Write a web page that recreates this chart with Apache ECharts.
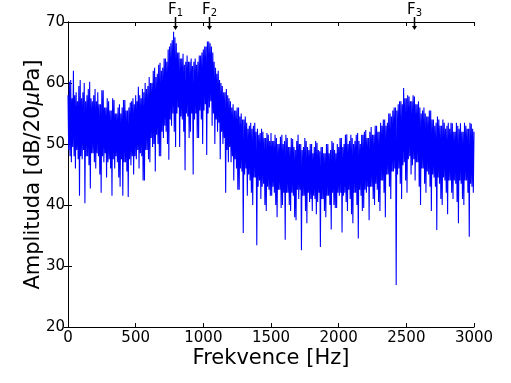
<!DOCTYPE html>
<html>
<head>
<meta charset="utf-8">
<script src="https://cdn.jsdelivr.net/npm/echarts@6/dist/echarts.min.js"></script>
<style>html,body{margin:0;padding:0;background:#fff}#c{width:511px;height:383px}</style>
</head>
<body>
<div id="c"></div>
<script>
// Spectrum: upper side of the noise band at 0,10,20,... Hz
const freqStep = 10;
const upperStart = 0;
const upper = [
  58, 60.2, 60.5, 57.5, 62, 58, 58.5, 57, 59.5, 60.5,
  57.5, 58.5, 60, 57, 58, 59, 60.2, 57.5, 57, 58,
  59, 57, 58.5, 56.5, 56.5, 58.8, 58.8, 56, 56, 57.5,
  57, 55.5, 55.5, 57.5, 57.2, 55, 55, 56, 56.5, 55,
  56, 57.2, 57.2, 55.5, 55.5, 56, 56.8, 57, 57.5, 56.5,
  58, 57, 59.4, 58, 57.5, 59, 58.5, 60, 59, 59.5,
  61, 60, 60, 62, 62.5, 61, 61.5, 63, 63.3, 62,
  62.5, 64, 64, 63.5, 65.5, 66, 66.5, 67, 68.4, 67.5,
  66.5, 65, 65, 64, 64, 64.8, 63, 63.5, 64.5, 63.5,
  63.5, 64, 62.8, 63.5, 64, 63, 63.5, 64.5, 64.5, 65,
  65.5, 66, 66, 66.8, 66.8, 66.5, 66, 65, 63.5, 62.5,
  61.5, 62, 60.5, 60, 59.5, 58.5, 58.5, 59, 58, 57.5,
  57, 56, 56.5, 55.5, 55.5, 56, 56, 54.5, 55, 54,
  54, 54.5, 53.5, 52.5, 53, 53.5, 52.5, 53, 53.5, 52,
  52.5, 51.5, 51.8, 52.5, 52, 51, 51, 51.8, 51.5, 50.5,
  51.8, 50.5, 50.5, 51.5, 51, 50, 50, 51.2, 51.5, 50,
  50.5, 51.5, 51, 49.5, 49.5, 51, 50.8, 49.5, 49, 50.5,
  51.5, 50, 50, 49, 49.5, 51, 50.5, 49.5, 49, 50,
  50, 48.5, 49.5, 50.5, 50.2, 49, 48.8, 49.5, 49.5, 48.5,
  48.5, 50, 50, 48.5, 49, 50.5, 50.2, 49, 48.5, 50,
  49.5, 51, 51, 49.5, 50, 51.5, 51.6, 50, 50.5, 51.5,
  51, 50, 50.5, 51.5, 51.8, 50.5, 50, 51.5, 51.5, 52,
  52.3, 51, 51, 52, 52.8, 51.5, 51.5, 53, 53, 52,
  52, 53.5, 53, 54, 54, 53, 53.5, 55, 55, 54.5,
  55.5, 56, 56, 55.5, 56.5, 57, 57, 56.5, 59.2, 57.5,
  57.5, 58, 57.8, 57, 57, 58, 57.8, 56.5, 56.5, 57,
  56, 55, 55.5, 56, 55, 54.5, 54.5, 55.5, 55.5, 54,
  54, 53, 53.5, 54.5, 54, 53, 53, 54, 53.5, 52.5,
  53, 53.5, 52.5, 53.5, 53.4, 52, 52, 53.5, 53, 52.5,
  53.4, 52, 52, 53.5, 53, 52.5, 52.5, 53.5, 53.3, 52.5,
  52
];
// Lower side of the noise band at 5,15,25,... Hz
const lowerStart = 5;
const lower = [
  49, 48, 47, 49.5, 48, 46, 49, 47.5, 41.5, 48,
  47.5, 49, 40.3, 48, 48, 46.5, 42.7, 48.5, 48.5, 47,
  46, 48.5, 48, 45, 42, 48, 47, 48.5, 44.5, 47,
  47.5, 46, 41.5, 47.5, 46, 48, 47, 44.5, 43, 47.5,
  41.5, 47, 47, 45.5, 41.3, 47.5, 46.5, 48, 45, 48,
  47.5, 49, 46, 48.5, 48, 44, 44, 49, 49, 47.5,
  47, 51, 49.5, 50, 45.5, 51.5, 50, 48, 48, 52,
  51, 53, 52, 50, 47.4, 54, 53, 55, 52, 49.5,
  55, 56, 49.5, 54.5, 54, 52, 45.7, 55, 54.5, 51,
  52, 55, 45, 54, 55, 51, 51, 55.5, 54, 50,
  55.5, 56.5, 48.2, 55, 56, 57, 53, 55, 50, 54,
  52, 53.5, 47.5, 52, 50, 51, 42, 49, 47, 49.5,
  47, 48, 44, 47.5, 46, 42.5, 42.5, 46, 45.5, 35.4,
  45, 46, 41.5, 45, 44, 42, 40, 44.5, 44.5, 33.4,
  43, 44, 41, 43, 43.5, 40, 39, 43, 42.5, 41.5,
  41.5, 43, 42, 40, 38, 42.5, 42.5, 39.5, 40, 42,
  34.3, 42, 42, 40, 39, 42, 41.5, 38, 37.5, 42.5,
  41, 42.5, 32.6, 41.5, 41.5, 39, 37, 42, 40.5, 41,
  39, 41.5, 41, 38.5, 40.5, 42, 33.1, 41, 41, 39,
  38, 41.5, 41.5, 40, 36, 42, 40, 39.5, 39.5, 42,
  41.5, 42, 35.5, 41.5, 42, 40.5, 39, 42.5, 41, 38.5,
  37, 42, 42, 40, 34.5, 42.5, 41.5, 39, 39.5, 42.5,
  42, 43, 37.5, 43, 43, 41, 40, 43.5, 42.5, 40.5,
  39, 44, 44, 42, 38, 45, 45, 43, 41, 45.5,
  45.5, 46, 26.9, 45, 46, 43.5, 41, 46.5, 47, 44,
  42, 47.5, 48, 45, 46.5, 47.5, 44, 47, 47, 43,
  40, 46, 46, 43.5, 42, 45.5, 45, 43, 39, 45,
  44.5, 43, 35.9, 44.5, 43.5, 41, 40, 44.5, 44, 42,
  38.5, 44, 44, 42, 41, 44, 43.5, 40.5, 37, 44,
  43.5, 41, 40, 44, 44, 42, 34.8, 43.5, 43, 42
];
// Formant annotations
const formantFreqs = [788, 1040, 2557];
const formantSubs = ['1', '2', '3'];
const xTickLabels = ['0', '500', '1000', '1500', '2000', '2500', '3000'];
const yTickLabels = ['20', '30', '40', '50', '60', '70'];

const seriesData = [];
for (let i = 0; i < upper.length; i++) {
  seriesData.push([upperStart + i * freqStep, upper[i]]);
  if (i < lower.length) seriesData.push([lowerStart + i * freqStep, lower[i]]);
}
const annotData = formantFreqs.map((f, i) => [f, 70, formantSubs[i]]);

const FONT = 'DejaVu Sans';
const chart = echarts.init(document.getElementById('c'), null, {renderer: 'canvas'});

const baseAxis = {
  axisLine: {show: true, lineStyle: {color: '#000', width: 1}},
  axisTick: {show: true, inside: true, length: 4, lineStyle: {color: '#000', width: 1}},
  splitLine: {show: false}
};

chart.setOption({
  animation: false,
  backgroundColor: '#fff',
  grid: {left: 68, right: 37, top: 22, bottom: 56, containLabel: false},
  xAxis: [
    Object.assign({}, baseAxis, {
      type: 'value', min: 0, max: 3000, interval: 500, position: 'bottom',
      axisLabel: {show: true, color: '#000', fontFamily: FONT, fontSize: 15, margin: 4,
        formatter: (v) => xTickLabels[Math.round(v / 500)] },
      name: 'Frekvence [Hz]', nameLocation: 'middle', nameGap: 21, nameMoveOverlap: false,
      nameTextStyle: {color: '#000', fontFamily: FONT, fontSize: 21}
    }),
    Object.assign({}, baseAxis, {
      type: 'value', min: 0, max: 3000, interval: 500, position: 'top',
      axisLabel: {show: false}
    })
  ],
  yAxis: [
    Object.assign({}, baseAxis, {
      type: 'value', min: 20, max: 70, interval: 10, position: 'left',
      axisLabel: {show: true, color: '#000', fontFamily: FONT, fontSize: 15, margin: 3,
        formatter: (v) => yTickLabels[Math.round((v - 20) / 10)] },
      name: '{a|Amplituda [dB/20}{m|μ}{a|Pa]}', nameLocation: 'middle', nameGap: 24,
      nameMoveOverlap: false,
      nameTextStyle: {color: '#000', fontFamily: FONT, fontSize: 21,
        rich: {a: {fontFamily: FONT, fontSize: 21, color: '#000'},
               m: {fontFamily: FONT, fontSize: 21, color: '#000', fontStyle: 'italic'}}}
    }),
    Object.assign({}, baseAxis, {
      type: 'value', min: 20, max: 70, interval: 10, position: 'right',
      axisLabel: {show: false}
    })
  ],
  series: [
    {
      type: 'line', data: seriesData, showSymbol: false, symbol: 'none',
      sampling: null, xAxisIndex: 0, yAxisIndex: 0,
      lineStyle: {color: '#0000ff', width: 1.1}, z: 2
    },
    {
      type: 'custom', xAxisIndex: 0, yAxisIndex: 0, clip: false, z: 5,
      data: annotData,
      renderItem: function (params, api) {
        const p = api.coord([api.value(0), api.value(1)]);
        const x = Math.round(p[0]) + 0.5, y = p[1];
        return {
          type: 'group',
          children: [
            {type: 'line', shape: {x1: x, y1: y - 5, x2: x, y2: y + 5},
             style: {stroke: '#000', lineWidth: 1.5}},
            {type: 'polygon', shape: {points: [[x - 2.5, y + 4], [x + 2.5, y + 4], [x, y + 8]]},
             style: {fill: '#000'}},
            {type: 'text', x: x, y: y - 3.5,
             style: {text: '{f|F}{s|' + annotData[params.dataIndex][2] + '}',
               align: 'center', verticalAlign: 'bottom',
               rich: {f: {fontFamily: FONT, fontSize: 15, fill: '#000'},
                      s: {fontFamily: FONT, fontSize: 10, fill: '#000', padding: [6, 0, 0, 0]}}}}
          ]
        };
      }
    }
  ]
});
</script>
</body>
</html>
